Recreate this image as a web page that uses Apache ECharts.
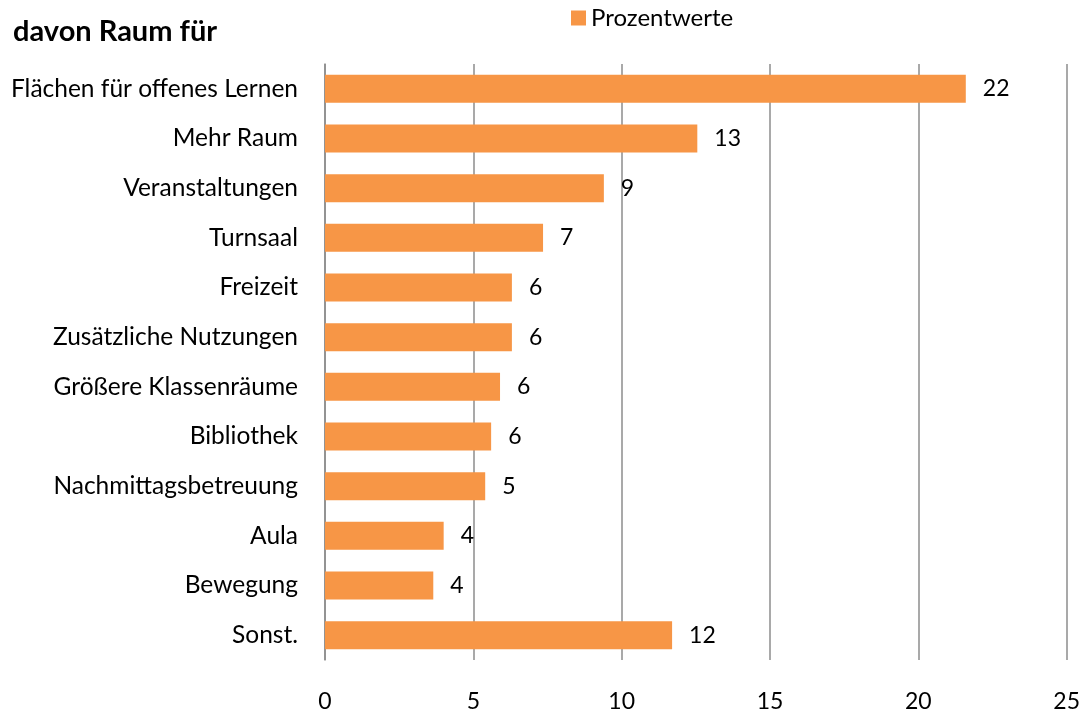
<!DOCTYPE html>
<html>
<head>
<meta charset="utf-8">
<script src="https://cdn.jsdelivr.net/npm/echarts@6/dist/echarts.min.js"></script>
<style>html,body{margin:0;padding:0;background:#fff;}#c{width:1083px;height:713px;}</style>
</head>
<body>
<div id="c"></div>
<script>
const categories = ["Flächen für offenes Lernen","Mehr Raum","Veranstaltungen","Turnsaal","Freizeit","Zusätzliche Nutzungen","Größere Klassenräume","Bibliothek","Nachmittagsbetreuung","Aula","Bewegung","Sonst."];
const values = [21.6, 12.55, 9.4, 7.35, 6.3, 6.3, 5.9, 5.6, 5.4, 4.0, 3.65, 11.7];
const labels = [22, 13, 9, 7, 6, 6, 6, 6, 5, 4, 4, 12];
const xTicks = [0, 5, 10, 15, 20, 25];
const seriesName = "Prozentwerte";
const titleText = "davon Raum für";

const font = "Lato, 'Open Sans', sans-serif";
const chart = echarts.init(document.getElementById('c'), null, {renderer: 'canvas'});
chart.setOption({
  animation: false,
  title: {text: titleText, left: 8, top: 12, textStyle: {fontFamily: font, fontSize: 29, fontWeight: 'bold', color: '#000'}},
  legend: {data: [seriesName], left: 566, top: 1, itemWidth: 15, itemHeight: 15, itemGap: 7,
    textStyle: {fontFamily: font, fontSize: 24, color: '#000'}, icon: 'rect'},
  grid: {left: 325, right: 15, top: 64, bottom: 53, containLabel: false},
  xAxis: {type: 'value', min: xTicks[0], max: xTicks[xTicks.length-1], interval: 5,
    axisLine: {show: false}, axisTick: {show: false},
    splitLine: {show: true, lineStyle: {color: '#8c8c8c', width: 1.5}},
    axisLabel: {margin: 30, fontFamily: font, fontSize: 23, color: '#000'}},
  yAxis: {type: 'category', data: categories, inverse: true,
    axisLine: {show: true, lineStyle: {color: '#8c8c8c', width: 1.5}}, axisTick: {show: false},
    axisLabel: {margin: 27, fontFamily: font, fontSize: 24.5, color: '#000'}},
  series: [{
    name: seriesName, type: 'bar', data: values, barWidth: 28,
    itemStyle: {color: '#F79646'},
    label: {show: true, position: 'right', distance: 17, fontFamily: font, fontSize: 23, color: '#000',
      formatter: p => labels[p.dataIndex]}
  }]
});
</script>
</body>
</html>
